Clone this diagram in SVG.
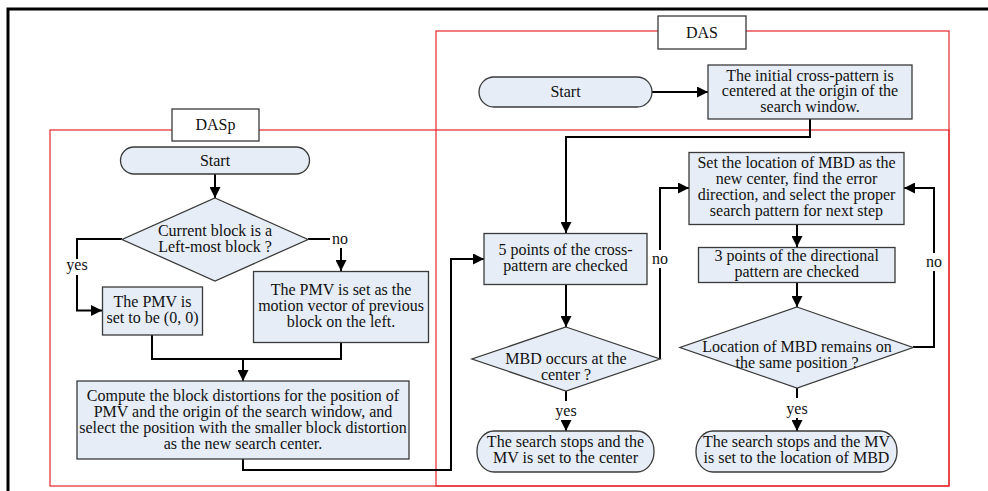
<svg xmlns="http://www.w3.org/2000/svg" width="988" height="491" viewBox="0 0 988 491">
  <defs>
    <style>
      text { font-family: "Liberation Serif", "Times New Roman", serif; font-size: 16px; fill: #111; text-anchor: middle; }
      .box { fill: #e6edf6; stroke: #3a3a3a; stroke-width: 1.3; }
      .label { fill: #ffffff; stroke: #3a3a3a; stroke-width: 1.3; }
      .frame { fill: none; stroke: #e8262b; stroke-width: 1.2; }
      .wire { fill: none; stroke: #000; stroke-width: 2; }
      .arrow { fill: none; stroke: #000; stroke-width: 2; marker-end: url(#head); }
    </style>
    <marker id="head" markerUnits="userSpaceOnUse" markerWidth="11" markerHeight="11" viewBox="0 0 10 10" refX="10" refY="5" orient="auto">
      <path d="M0,0 L10,5 L0,10 z" fill="#000"/>
    </marker>
  </defs>

  <rect width="988" height="491" fill="#ffffff"/>

  <!-- outer border -->
  <path d="M8,491 V9 H988" fill="none" stroke="#000" stroke-width="3"/>

  <!-- algorithm frames -->
  <rect class="frame" x="50" y="130" width="899" height="356"/>
  <rect class="frame" x="436" y="31" width="513" height="455"/>

  <g id="label-dasp">
    <rect class="label" x="172" y="109" width="87" height="32"/>
    <text x="215.5" y="130">DASp</text>
  </g>
  <g id="label-das">
    <rect class="label" x="658" y="16" width="88" height="33"/>
    <text x="702" y="37.5">DAS</text>
  </g>

  <!-- connectors -->
  <g id="connectors">
    <path class="arrow" d="M215,174 V198"/>
    <path class="wire" d="M122,239 H77 V259"/>
    <path class="arrow" d="M77,275 V310.5 H102"/>
    <path class="wire" d="M308,239 H330"/>
    <path class="arrow" d="M341,248 V271"/>
    <path class="wire" d="M152,335 V359 H341 V342"/>
    <path class="arrow" d="M243,359 V381"/>
    <path class="arrow" d="M243,459 V470 H451 V259 H484"/>
    <path class="arrow" d="M652,92 H708"/>
    <path class="arrow" d="M810,119 V137 H566 V233"/>
    <path class="arrow" d="M566,284 V327"/>
    <path class="wire" d="M566,391 V401"/>
    <path class="arrow" d="M566,420 V431"/>
    <path class="wire" d="M660,359 V268"/>
    <path class="arrow" d="M660,250 V188 H689"/>
    <path class="arrow" d="M797,224 V247"/>
    <path class="arrow" d="M797,283 V307"/>
    <path class="wire" d="M797,388 V398"/>
    <path class="arrow" d="M797,418 V431"/>
    <path class="wire" d="M913,347 H934 V271"/>
    <path class="arrow" d="M934,253 V188 H904"/>
    <text x="77" y="270">yes</text>
    <text x="340" y="243.5">no</text>
    <text x="566" y="415.5">yes</text>
    <text x="660" y="263.5">no</text>
    <text x="797" y="414">yes</text>
    <text x="934" y="266.5">no</text>
  </g>

  <!-- DASp -->
  <g id="dasp-start">
    <rect class="box" x="120.5" y="147" width="189" height="27" rx="13.5"/>
    <text x="215" y="165.5">Start</text>
  </g>
  <g id="dasp-leftmost">
    <polygon class="box" points="215,198 308,239.5 215,281 122,239.5"/>
    <text x="215" y="235.5">Current block is a</text>
    <text x="215" y="251.5">Left-most block ?</text>
  </g>
  <g id="dasp-zero">
    <rect class="box" x="102.5" y="287" width="100" height="48"/>
    <text x="152.5" y="307.3">The PMV is</text>
    <text x="152.5" y="323.3">set to be (0, 0)</text>
  </g>
  <g id="dasp-left">
    <rect class="box" x="253.5" y="271.5" width="175" height="71"/>
    <text x="341" y="295">The PMV is set as the</text>
    <text x="341" y="311">motion vector of previous</text>
    <text x="341" y="327">block on the left.</text>
  </g>
  <g id="dasp-compute">
    <rect class="box" x="77" y="381" width="332" height="78"/>
    <text x="243" y="400.5">Compute the block distortions for the position of</text>
    <text x="243" y="416.5">PMV and the origin of the search window, and</text>
    <text x="243" y="432.5">select the position with the smaller block distortion</text>
    <text x="243" y="448.5">as the new search center.</text>
  </g>

  <!-- DAS -->
  <g id="das-start">
    <rect class="box" x="479" y="77" width="173" height="30" rx="15"/>
    <text x="565.5" y="96.7">Start</text>
  </g>
  <g id="das-init">
    <rect class="box" x="708" y="65" width="204" height="54"/>
    <text x="810" y="80.5">The initial cross-pattern is</text>
    <text x="810" y="96.3">centered at the origin of the</text>
    <text x="810" y="112">search window.</text>
  </g>
  <g id="das-cross">
    <rect class="box" x="484" y="233.5" width="163" height="51"/>
    <text x="565.5" y="255">5 points of the cross-</text>
    <text x="565.5" y="271">pattern are checked</text>
  </g>
  <g id="das-center-test">
    <polygon class="box" points="566,327 660,359 566,391 472,359"/>
    <text x="566" y="364">MBD occurs at the</text>
    <text x="566" y="380">center ?</text>
  </g>
  <g id="das-stop-center">
    <rect class="box" x="477" y="431" width="177" height="41" rx="17" ry="20"/>
    <text x="565.5" y="447.3">The search stops and the</text>
    <text x="565.5" y="463.3">MV is set to the center</text>
  </g>
  <g id="das-recenter">
    <rect class="box" x="689" y="152.5" width="215" height="72"/>
    <text x="796.5" y="167.7">Set the location of MBD as the</text>
    <text x="796.5" y="183.6">new center, find the error</text>
    <text x="796.5" y="199.6">direction, and select the proper</text>
    <text x="796.5" y="215.5">search pattern for next step</text>
  </g>
  <g id="das-directional">
    <rect class="box" x="698.5" y="247.5" width="196.5" height="35"/>
    <text x="796.7" y="260.7">3 points of the directional</text>
    <text x="796.7" y="276.7">pattern are checked</text>
  </g>
  <g id="das-same-test">
    <polygon class="box" points="797,307 913,347.5 797,388 680,347.5"/>
    <text x="797" y="351.7">Location of MBD remains on</text>
    <text x="797" y="367.7">the same position ?</text>
  </g>
  <g id="das-stop-mbd">
    <rect class="box" x="696" y="431" width="201" height="41" rx="17" ry="20"/>
    <text x="796.5" y="447.3">The search stops and the MV</text>
    <text x="796.5" y="463.3">is set to the location of MBD</text>
  </g>
</svg>
